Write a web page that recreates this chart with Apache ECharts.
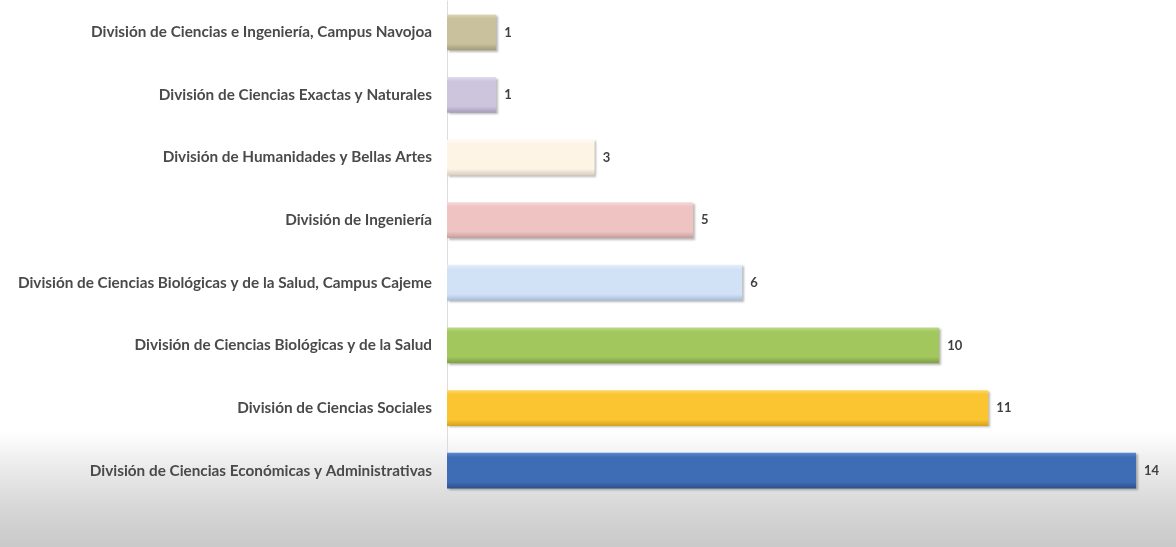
<!DOCTYPE html>
<html>
<head>
<meta charset="utf-8">
<script src="https://cdn.jsdelivr.net/npm/echarts@6/dist/echarts.min.js"></script>
<style>
html,body{margin:0;padding:0;width:1176px;height:547px;overflow:hidden;
background:linear-gradient(to bottom,#ffffff 0px,#ffffff 432px,#ececec 465px,#d6d6d6 510px,#c9c9c9 547px);}
#c{width:1176px;height:547px;}
</style>
</head>
<body>
<div id="c"></div>
<script>
const categories = [
  "División de Ciencias e Ingeniería, Campus Navojoa",
  "División de Ciencias Exactas y Naturales",
  "División de Humanidades y Bellas Artes",
  "División de Ingeniería",
  "División de Ciencias Biológicas y de la Salud, Campus Cajeme",
  "División de Ciencias Biológicas y de la Salud",
  "División de Ciencias Sociales",
  "División de Ciencias Económicas y Administrativas"
];
const values = [1, 1, 3, 5, 6, 10, 11, 14];
const baseColors = ["#c9c19d", "#cdc5de", "#fdf4e6", "#eec3c2", "#d1e1f6", "#a2c75d", "#fbc531", "#3f6db5"];
const topColors = ["#dcd6b9", "#e2dcef", "#fffaf2", "#f6d9d8", "#e6effb", "#bcd985", "#fdd765", "#5d88cc"];
const bottomColors = ["#a39c78", "#a59cbb", "#d8cdbf", "#c79d9c", "#a9bcd5", "#7e9e42", "#d6a21c", "#2b4f8a"];

const chart = echarts.init(document.getElementById('c'), null, {renderer: 'canvas'});
chart.setOption({
  backgroundColor: 'transparent',
  animation: false,
  grid: {left: 447, top: 1, width: 689, height: 501, containLabel: false},
  xAxis: {type: 'value', min: 0, max: 14, show: false},
  yAxis: {
    type: 'category', data: categories, inverse: true,
    axisLine: {show: true, lineStyle: {color: '#dcdcdc', width: 1}},
    axisTick: {show: false},
    axisLabel: {margin: 15, color: '#4a4a4a', fontFamily: 'Lato', fontWeight: 'bold', fontSize: 15.3}
  },
  series: [{
    type: 'bar',
    barCategoryGap: '43%',
    data: values.map((v, i) => ({
      value: v,
      itemStyle: {
        color: new echarts.graphic.LinearGradient(0, 0, 0, 1, [
          {offset: 0, color: topColors[i]},
          {offset: 0.12, color: baseColors[i]},
          {offset: 0.82, color: baseColors[i]},
          {offset: 1, color: bottomColors[i]}
        ]),
        shadowColor: 'rgba(0,0,0,0.28)', shadowBlur: 2, shadowOffsetX: 1.5, shadowOffsetY: 1.5
      }
    })),
    label: {show: true, position: 'right', distance: 8, color: '#404040', fontFamily: 'Lato', fontWeight: 'bold', fontSize: 13}
  }]
});
</script>
</body>
</html>
